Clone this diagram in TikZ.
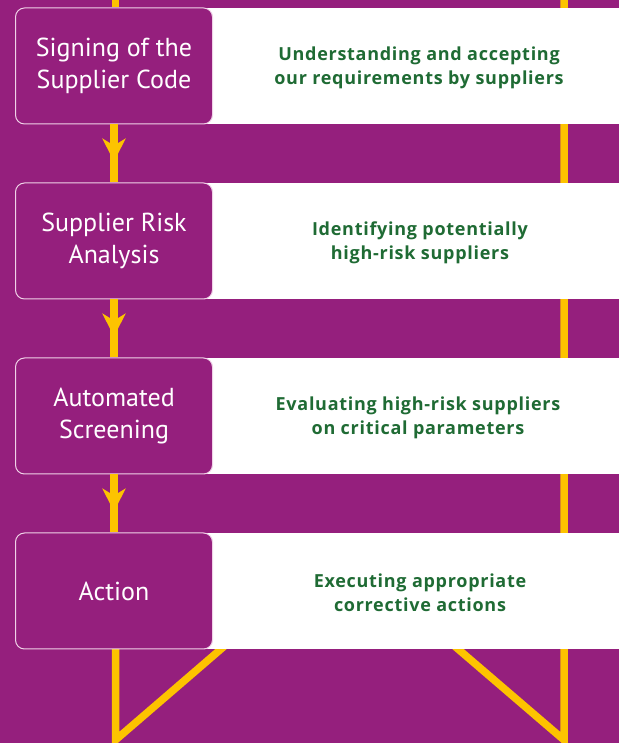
\documentclass[tikz,border=0pt]{standalone}
\usepackage{fontspec}
\setmainfont{PT Sans}
\newfontfamily\greenfont[LetterSpace=4]{Open Sans}
\usetikzlibrary{arrows.meta,decorations.markings}
\definecolor{bgpurple}{HTML}{951F7D}
\definecolor{ylw}{HTML}{FDC300}
\definecolor{grn}{HTML}{1F6B34}
\definecolor{edgepink}{HTML}{F0D2E8}
\begin{document}
\begin{tikzpicture}[x=1pt,y=1pt,
  stepbox/.style={draw=edgepink, line width=1pt, fill=bgpurple, rounded corners=9pt,
    minimum width=197pt, minimum height=116pt, text=white, align=center,
    font=\fontsize{26}{31.5}\selectfont, inner sep=0pt},
  band/.style={fill=white, minimum width=469pt, minimum height=116pt, inner sep=0pt},
  desc/.style={text=grn, align=center, font=\greenfont\bfseries\fontsize{18}{23.5}\selectfont},
  yline/.style={draw=ylw, line width=7.5pt, miter limit=4},
  flow/.style={yline, postaction={decorate},
    decoration={markings, mark=at position 0.64 with {\arrow[ylw]{Stealth[length=23pt,width=23pt,inset=7pt]}}}}
]
\fill[bgpurple] (0,0) rectangle (619,743);
\useasboundingbox (0,0) rectangle (619,743);

% coordinates
\coordinate (lt) at (115.5,743);
\coordinate (lb) at (115.5,3);
\coordinate (ld) at (228,100);
\coordinate (rt) at (564,743);
\coordinate (rb) at (564,3);
\coordinate (rd) at (451,100);
\coordinate (b4s) at (115.5,94);

% right yellow line and bottom V shapes (behind the bands)
\draw[yline] (rt) -- (rb) -- (rd);
\draw[yline] (b4s) -- (lb) -- (ld);

% white bands
\node[band] (w1) at (384.5,677) {};
\node[band] (w2) at (384.5,502) {};
\node[band] (w3) at (384.5,327) {};
\node[band] (w4) at (384.5,152) {};

% step boxes
\node[stepbox] (b1) at (114,677) {Signing of the\\Supplier Code};
\node[stepbox] (b2) at (114,502) {Supplier Risk\\Analysis};
\node[stepbox] (b3) at (114,327) {Automated\\Screening};
\node[stepbox] (b4) at (114,152) {Action};

% left yellow flow
\draw[yline] (lt) -- (lt |- b1.north);
\draw[flow] (b1.south) -- (b2.north);
\draw[flow] (b2.south) -- (b3.north);
\draw[flow] (b3.south) -- (b4.north);

% descriptions
\node[desc] (d1) at (419,675) {Understanding and accepting\\our requirements by suppliers};
\node[desc] (d2) at (420,500) {Identifying potentially\\high-risk suppliers};
\node[desc] (d3) at (418,325) {Evaluating high-risk suppliers\\on critical parameters};
\node[desc] (d4) at (420,150) {Executing appropriate\\corrective actions};
\end{tikzpicture}
\end{document}
